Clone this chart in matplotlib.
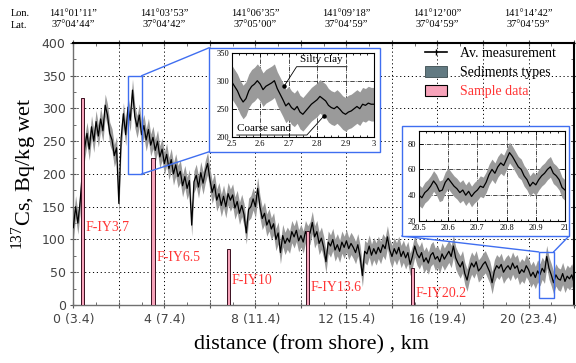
import numpy as np
import matplotlib.pyplot as plt
from matplotlib.patches import Rectangle, ConnectionPatch, Patch
from matplotlib.lines import Line2D
from matplotlib.ticker import MultipleLocator

plt.rcParams['font.family'] = 'Liberation Serif'
plt.rcParams['mathtext.fontset'] = 'custom'
plt.rcParams['mathtext.rm'] = 'Liberation Serif'

# --- 137Cs along the transect, 0.1 km step ---
step_km = 0.1
cs_av = [
    118, 150, 125, 158, 205, 240, 262, 238, 272, 250,
    280, 258, 284, 266, 305, 290, 262, 252, 228, 240,
    155, 255, 292, 260, 302, 282, 328, 288, 272, 290,
    260, 274, 252, 268, 244, 256, 236, 250, 226, 238,
    216, 230, 208, 222, 200, 214, 196, 204, 182, 196,
    178, 190, 122, 188, 198, 180, 202, 186, 204, 216,
    192, 172, 184, 160, 170, 152, 166, 150, 170, 160,
    168, 148, 158, 140, 152, 138, 110, 146, 150, 162,
    150, 178, 150, 132, 140, 122, 130, 116, 124, 100,
    110, 80, 106, 94, 102, 96, 112, 104, 114, 98,
    106, 96, 112, 104, 110, 126, 104, 112, 94, 102,
    88, 66, 96, 90, 100, 84, 92, 82, 96, 88,
    98, 86, 94, 88, 80, 92, 74, 45, 82, 78,
    90, 76, 86, 78, 88, 80, 92, 86, 104, 84,
    74, 86, 78, 88, 74, 82, 72, 80, 62, 74,
    90, 78, 72, 80, 66, 72, 64, 76, 80, 70,
    74, 66, 78, 70, 76, 82, 74, 90, 72, 64,
    58, 66, 48, 38, 54, 64, 58, 66, 52, 56,
    62, 66, 58, 50, 34, 52, 60, 56, 62, 50,
    56, 60, 54, 64, 56, 60, 48, 54, 50, 60,
    54, 44, 50, 42, 52, 46, 56, 50, 74, 56,
    46, 34, 46, 40, 38, 48, 36, 44, 40, 46,
    34,
]
cs_spread = 17

# sediment samples
sample_km = [0.41, 3.5, 6.82, 10.29, 14.9]
sample_cs = [316, 224, 85, 113, 56]
sample_names = ['F-IY3.7', 'F-IY6.5', 'F-IY10', 'F-IY13.6', 'F-IY20.2']
label_y = [119, 73, 38, 26, 17]

# close-up 2.5-3 km, 0.01 km step
zoom1_start = 2.5
zoom1_cs = [
    298, 290, 282, 270, 262, 268, 282, 290, 294, 300,
    294, 284, 290, 293, 296, 300, 286, 276, 266, 255,
    260, 252, 248, 254, 244, 240, 246, 252, 258, 262,
    266, 272, 268, 264, 256, 252, 250, 254, 249, 243,
    240, 244, 246, 250, 254, 250, 258, 256, 260, 258,
    258,
]
zoom1_spread = 30

# close-up 20.5-21 km, 0.01 km step
zoom2_start = 20.5
zoom2_cs = [
    40, 38, 42, 44, 47, 51, 48, 43, 44, 50,
    53, 50, 47, 45, 42, 44, 40, 43, 39, 42,
    44, 47, 46, 50, 56, 60, 57, 62, 65, 63,
    68, 73, 70, 66, 62, 60, 55, 52, 47, 50,
    48, 52, 55, 57, 60, 62, 57, 55, 52, 46,
    44,
]
zoom2_spread = 8

# tick labels
xtick_km = [0, 4, 8, 12, 16, 20]
xtick_text = ['0 (3.4)', '4 (7.4)', '8 (11.4)', '12 (15.4)', '16 (19.4)', '20 (23.4)']
lon_text = ['141°01’11”', '141°03’53”', '141°06’35”', '141°09’18”', '141°12’00”', '141°14’42”']
lat_text = ['37°04’44”', '37°04’42”', '37°05’00”', '37°04’59”', '37°04’59”', '37°04’59”']

band_color = '#9a9a9a'
pink = '#f7a3ba'
blue = '#3f6ef0'
red = '#ff3535'

cs_av = np.array(cs_av, dtype=float)
dist = np.arange(len(cs_av)) * step_km

fig = plt.figure(figsize=(5.76, 3.63), dpi=100)
ax = fig.add_axes([0.1273, 0.1598, 0.8693, 0.7218])

ax.fill_between(dist, cs_av - cs_spread, cs_av + cs_spread, color=band_color, lw=0, zorder=2)
ax.plot(dist, cs_av, color='black', lw=0.9, zorder=3)
ax.bar(sample_km, sample_cs, width=0.15, color=pink, edgecolor='#3a1020', lw=0.7, zorder=4)
for xk, name, ly in zip(sample_km, sample_names, label_y):
    ax.text(xk + 0.14, ly, name, color=red, fontsize=10, va='center', ha='left', zorder=5)

ax.set_xlim(0, 22)
ax.set_ylim(0, 400)
ax.set_xticks(np.arange(0, 23, 2))
ax.set_xticklabels([xtick_text[xtick_km.index(v)] if v in xtick_km else '' for v in range(0, 23, 2)])
ax.xaxis.set_minor_locator(MultipleLocator(1))
ax.yaxis.set_major_locator(MultipleLocator(50))
ax.yaxis.set_minor_locator(MultipleLocator(25))
ax.grid(True, which='major', linestyle=(0, (1.2, 2.8)), color='black', lw=0.7, zorder=1)
ax.tick_params(which='major', direction='inout', length=5, width=0.8, color='#555555',
               labelsize=9, labelcolor='#444444', top=True, right=True, pad=3)
ax.tick_params(which='minor', direction='in', length=2.5, width=0.6, color='#555555',
               top=True, right=True)
for lab in ax.get_xticklabels() + ax.get_yticklabels():
    lab.set_fontfamily('DejaVu Sans')
for side in ['top', 'right']:
    ax.spines[side].set_linewidth(1.5)
    ax.spines[side].set_color('black')
for side in ['left', 'bottom']:
    ax.spines[side].set_linewidth(1.0)
    ax.spines[side].set_color('#707070')

ax.set_xlabel('distance (from shore) , km', fontsize=16, va='center')
ax.xaxis.set_label_coords(0.475, -0.153)
ax.set_ylabel(r'$^{\mathrm{137}}$Cs, Bq/kg wet', fontsize=16, va='center')
ax.yaxis.set_label_coords(-0.098, 0.5)

# longitude / latitude along the top
xt = ax.get_xaxis_transform()
for xk, lo, la in zip(xtick_km, lon_text, lat_text):
    ax.text(xk, 1.114, lo, transform=xt, ha='center', va='center', fontsize=7.5)
    ax.text(xk, 1.069, la, transform=xt, ha='center', va='center', fontsize=7.5)
fig.text(0.018, 1 - 13 / 363, 'Lon.', fontsize=7.5, va='center')
fig.text(0.018, 1 - 25 / 363, 'Lat.', fontsize=7.5, va='center')

# legend
handles = [
    Line2D([], [], color='black', lw=1.2, marker='|', markersize=5),
    Patch(facecolor='#627a82', edgecolor='#3c4c50', lw=0.6),
    Patch(facecolor=pink, edgecolor='black', lw=0.8),
]
leg = ax.legend(handles, ['Av. measurement', 'Sediments types', 'Sample data'],
                loc='upper left', bbox_to_anchor=(0.738, 0.872), bbox_transform=fig.transFigure,
                frameon=False, fontsize=10, handlelength=1.6, handleheight=0.9,
                handletextpad=0.9, labelspacing=0.4, borderaxespad=0, borderpad=0)
leg.get_texts()[2].set_color(red)

# marked windows on the main profile
ax.add_patch(Rectangle((2.4, 200), 0.6, 150, fill=False, edgecolor=blue, lw=1.0, zorder=6))
ax.add_patch(Rectangle((20.45, 10), 0.65, 71, fill=False, edgecolor=blue, lw=1.0, zorder=6))


def inset_panel(frame, box, start, values, spread, ylim, xticks, xlabels, yticks):
    fig.add_artist(Rectangle(frame[:2], frame[2], frame[3], transform=fig.transFigure,
                             facecolor='white', edgecolor=blue, lw=1.0, zorder=1.5))
    ia = fig.add_axes(box, zorder=3)
    xs = start + np.arange(len(values)) * 0.01
    vals = np.array(values, dtype=float)
    ia.fill_between(xs, vals - spread, vals + spread, color=band_color, lw=0, zorder=2)
    ia.plot(xs, vals, color='black', lw=0.9, zorder=3)
    ia.set_xlim(xticks[0], xticks[-1])
    ia.set_ylim(*ylim)
    ia.set_xticks(xticks)
    ia.set_xticklabels(xlabels)
    ia.set_yticks(yticks)
    ia.xaxis.set_minor_locator(MultipleLocator(0.025))
    ia.grid(True, linestyle='-.', color='black', lw=0.5, zorder=1)
    ia.tick_params(which='both', direction='in', labelsize=6, top=True, right=True,
                   length=3, width=0.6)
    ia.tick_params(axis='x', pad=2.5)
    ia.tick_params(axis='y', pad=2.0)
    ia.tick_params(which='minor', length=1.5)
    for s in ia.spines.values():
        s.set_linewidth(0.8)
    return ia


in1 = inset_panel([0.3634, 0.5821, 0.2964, 0.2865], [0.4023, 0.6234, 0.247, 0.2314],
                  zoom1_start, zoom1_cs, zoom1_spread, (200, 350),
                  [2.5, 2.6, 2.7, 2.8, 2.9, 3.0], ['2.5', '2.6', '2.7', '2.8', '2.9', '3'],
                  [200, 250, 300, 350])
in2 = inset_panel([0.6974, 0.3499, 0.2905, 0.303], [0.7274, 0.3912, 0.2535, 0.2488],
                  zoom2_start, zoom2_cs, zoom2_spread, (20, 90),
                  [20.5, 20.6, 20.7, 20.8, 20.9, 21.0], ['20.5', '20.6', '20.7', '20.8', '20.9', '21'],
                  [20, 40, 60, 80])

# sediment type callouts
in1.plot([2.684, 2.728, 2.905], [290, 325, 325], color='black', lw=0.6, zorder=5)
in1.plot([2.684], [290], 'o', color='black', ms=2.2, zorder=5)
in1.text(2.74, 337, 'Silty clay', fontsize=8, va='center', ha='left', zorder=5)
in1.plot([2.824, 2.764, 2.518], [237, 203, 203], color='black', lw=0.6, zorder=5)
in1.plot([2.824], [237], 'o', color='black', ms=2.2, zorder=5)
in1.text(2.518, 215, 'Coarse sand', fontsize=8, va='center', ha='left', zorder=5)

# connector lines from the marked windows to the close-ups
for xy_data, xy_fig in [((3.0, 350), (0.3634, 0.8686)), ((3.0, 200), (0.3634, 0.5821)),
                        ((20.45, 81), (0.6974, 0.3499)), ((21.1, 81), (0.9879, 0.3499))]:
    fig.add_artist(ConnectionPatch(xyA=xy_data, coordsA=ax.transData, xyB=xy_fig,
                                   coordsB=fig.transFigure, color=blue, lw=1.0, zorder=1.4))

fig.savefig('out.png', dpi=100)
